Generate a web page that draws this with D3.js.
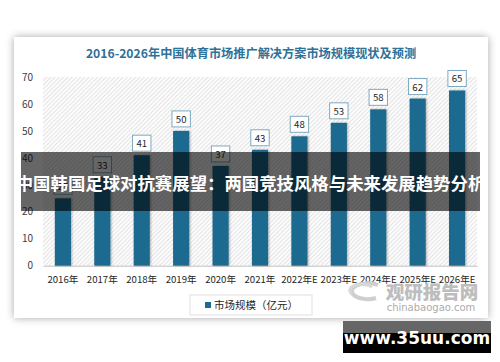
<!DOCTYPE html>
<html><head><meta charset="utf-8">
<script src="https://cdn.jsdelivr.net/npm/d3@7"></script>
<style>body{margin:0;background:#fff}svg{display:block}</style>
</head><body>
<script>
const title = "2016-2026年中国体育市场推广解决方案市场规模现状及预测";
const categories = ["2016年","2017年","2018年","2019年","2020年","2021年","2022年E","2023年E","2024年E","2025年E","2026年E"];
const values = [25,33,41,50,37,43,48,53,58,62,65];
const yTicks = [0,10,20,30,40,50,60,70];
const seriesName = "市场规模（亿元）";
const banner = "中国韩国足球对抗赛展望：两国竞技风格与未来发展趋势分析";
const site = "www.35uu.com";

const W=500,H=362;
const svg=d3.select("body").append("svg").attr("width",W).attr("height",H);
const defs=svg.append("defs");
const f=defs.append("filter").attr("id","sh").attr("x","-10%").attr("y","-10%").attr("width","120%").attr("height","120%");
f.append("feGaussianBlur").attr("in","SourceAlpha").attr("stdDeviation",4);
f.append("feOffset").attr("dx",0).attr("dy",0).attr("result","b");
f.append("feComponentTransfer").append("feFuncA").attr("type","linear").attr("slope",0.35);
const fm=f.append("feMerge");fm.append("feMergeNode");fm.append("feMergeNode").attr("in","SourceGraphic");
const fb=defs.append("filter").attr("id","bs").attr("x","-30%").attr("y","-10%").attr("width","160%").attr("height","120%");
fb.append("feGaussianBlur").attr("in","SourceAlpha").attr("stdDeviation",1);
fb.append("feOffset").attr("dx",1).attr("dy",0);
fb.append("feComponentTransfer").append("feFuncA").attr("type","linear").attr("slope",0.3);
const fbm=fb.append("feMerge");fbm.append("feMergeNode");fbm.append("feMergeNode").attr("in","SourceGraphic");
const pat=defs.append("pattern").attr("id","hatch").attr("patternUnits","userSpaceOnUse").attr("width",3).attr("height",3).attr("patternTransform","rotate(-45)");
pat.append("rect").attr("width",3).attr("height",3).attr("fill","#ffffff");
pat.append("rect").attr("width",3).attr("height",1.2).attr("fill","#e4e4e4");

// card
svg.append("rect").attr("x",14).attr("y",37).attr("width",474).attr("height",281).attr("fill","#fff").attr("filter","url(#sh)");

svg.append("text").attr("x",251).attr("y",58).attr("text-anchor","middle")
  .attr("font-family","Noto Sans CJK SC").attr("font-weight","bold").attr("font-size",12.2)
  .attr("fill","#2e7199").text(title);

const m={l:43,r:477,t:77,b:265.7};
const x=d3.scaleBand().domain(categories).range([m.l,m.r]).paddingInner(0.59).paddingOuter(0.3);
const y=d3.scaleLinear().domain([0,70]).range([m.b,m.t]);

svg.append("rect").attr("x",m.l).attr("y",m.t).attr("width",m.r-m.l).attr("height",m.b-m.t).attr("fill","url(#hatch)");

const ya=svg.append("g").attr("transform",`translate(${m.l},0)`).call(d3.axisLeft(y).tickValues(yTicks).tickSize(0).tickPadding(10));
ya.select(".domain").remove();
ya.selectAll("text").attr("font-family","Noto Sans CJK SC").attr("font-size",10).attr("fill","#404040");

const xa=svg.append("g").attr("transform",`translate(0,${m.b})`).call(d3.axisBottom(x).tickSize(0).tickPadding(10));
xa.select(".domain").attr("stroke","#bfbfbf");
xa.selectAll("text").attr("font-family","Noto Sans CJK SC").attr("font-size",9.6).attr("fill","#262626");

svg.append("g").selectAll("rect").data(values).join("rect")
  .attr("x",(d,i)=>x(categories[i])).attr("width",x.bandwidth())
  .attr("y",d=>y(d)).attr("height",d=>m.b-y(d)).attr("fill","#1f6b8f").attr("filter","url(#bs)");

const lg=svg.append("g").selectAll("g").data(values).join("g")
  .attr("transform",(d,i)=>`translate(${x(categories[i])+x.bandwidth()/2},${y(d)-4})`);
lg.append("rect").attr("x",-9.2).attr("y",-16).attr("width",18.4).attr("height",16).attr("fill","#fff").attr("stroke","#7ea9c0").attr("stroke-width",1);
lg.append("text").attr("y",-4).attr("text-anchor","middle").attr("font-family","Noto Sans CJK SC").attr("font-size",9.6).attr("fill","#262626").text(d=>d);

// legend
const leg=svg.append("g");
leg.append("rect").attr("x",190).attr("y",295).attr("width",122).attr("height",20).attr("fill","#fff").attr("stroke","#e0e0e0");
leg.append("rect").attr("x",205).attr("y",302).attr("width",6).attr("height",6).attr("fill","#1f6b8f");
leg.append("text").attr("x",214).attr("y",309).attr("font-family","Noto Sans CJK SC").attr("font-size",10.5).attr("fill","#262626").text(seriesName);

// watermark
const wm=svg.append("g");
wm.append("path").attr("d","M 378 285 A 16 8 0 1 0 376 298").attr("fill","none").attr("stroke","#cfcfcf").attr("stroke-width",4);
wm.append("path").attr("d","M 352 294 A 12 6 0 0 1 372 287").attr("fill","none").attr("stroke","#d8d8d8").attr("stroke-width",3);
wm.append("text").attr("x",432).attr("y",299).attr("text-anchor","middle").attr("font-family","Noto Sans CJK SC").attr("font-weight","900").attr("font-size",18.5).attr("fill","#bdbdbd").text("观研报告网");
wm.append("text").attr("x",431).attr("y",311).attr("text-anchor","middle").attr("font-family","DejaVu Sans").attr("font-size",10).attr("fill","#ababab").text("chinabaogao.com");

// banner
svg.append("rect").attr("x",21).attr("y",152).attr("width",459).attr("height",59).attr("fill","rgba(0,0,0,0.6)");
svg.append("text").attr("x",250.5).attr("y",190).attr("text-anchor","middle").attr("font-family","Noto Sans CJK SC").attr("font-weight","bold").attr("font-size",17.4).attr("fill","#fff").text(banner);

// site box
svg.append("rect").attr("x",343).attr("y",321).attr("width",148).attr("height",12).attr("fill","#666");
svg.append("rect").attr("x",343).attr("y",333).attr("width",148).attr("height",20).attr("fill","#000");
svg.append("text").attr("x",417).attr("y",344).attr("text-anchor","middle").attr("font-family","DejaVu Sans").attr("font-weight","bold").attr("font-size",17).attr("fill","#fff").text(site);
</script>
</body></html>
